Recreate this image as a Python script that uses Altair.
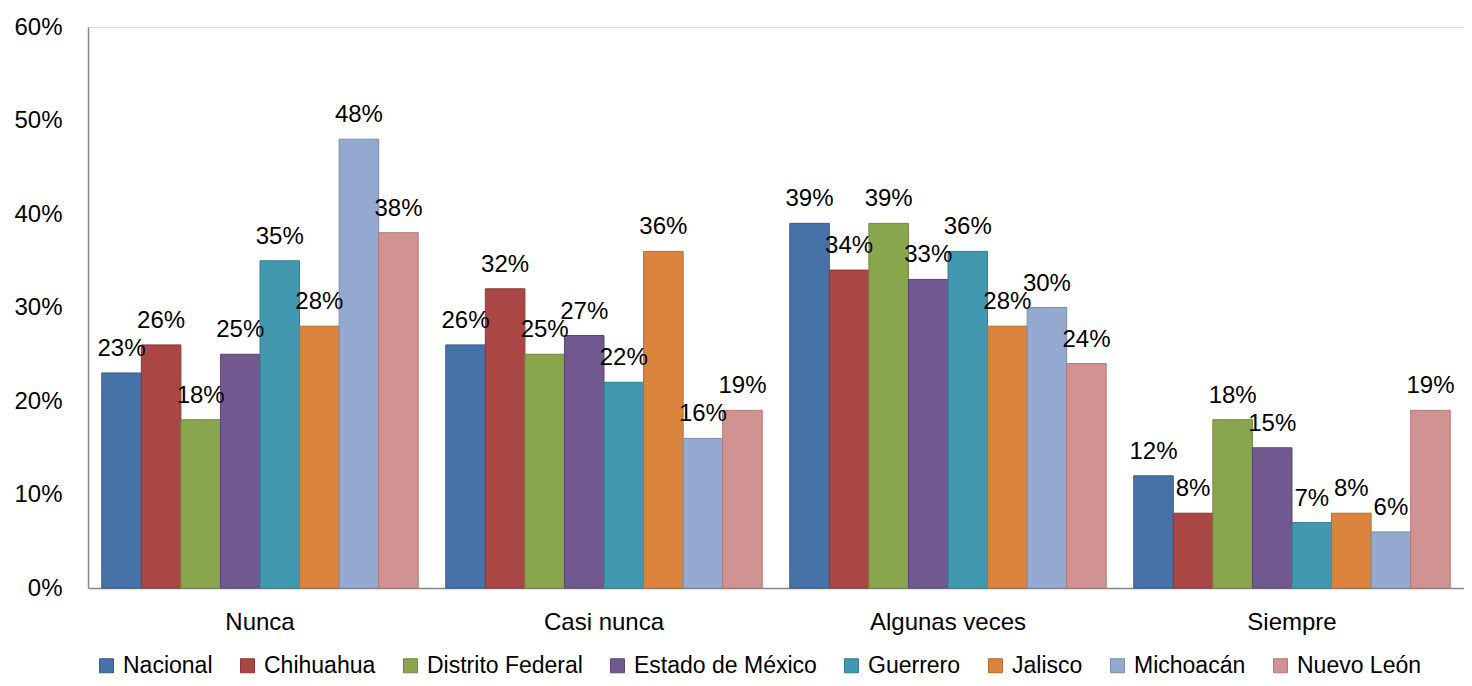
import altair as alt
import pandas as pd

categories = ["Nunca", "Casi  nunca", "Algunas veces", "Siempre"]
series = ["Nacional", "Chihuahua", "Distrito Federal", "Estado de México",
          "Guerrero", "Jalisco", "Michoacán", "Nuevo León"]
values = {
    "Nunca":         [23, 26, 18, 25, 35, 28, 48, 38],
    "Casi  nunca":   [26, 32, 25, 27, 22, 36, 16, 19],
    "Algunas veces": [39, 34, 39, 33, 36, 28, 30, 24],
    "Siempre":       [12, 8, 18, 15, 7, 8, 6, 19],
}
fill_colors = ["#4572A7", "#AA4643", "#89A54E", "#71588F",
               "#4198AF", "#DB843D", "#93A9CF", "#D19392"]
stroke_colors = ["#385D8A", "#8C3836", "#71893F", "#5C4776",
                 "#357D91", "#B66D31", "#7A8DB0", "#AF7A79"]
y_ticks = [0, 0.1, 0.2, 0.3, 0.4, 0.5, 0.6]

rows = []
for c in categories:
    for s, v in zip(series, values[c]):
        rows.append({"cat": c, "serie": s, "val": v / 100})
df = pd.DataFrame(rows)

FONT = "Liberation Sans"

base = alt.Chart(df).encode(
    x=alt.X("cat:N", sort=categories, title=None,
            scale=alt.Scale(paddingInner=0.08, paddingOuter=0.04),
            axis=alt.Axis(labelAngle=0, ticks=False, labelPadding=22,
                          labelFont=FONT, labelFontSize=24, labelColor="#000000",
                          domainColor="#868686", domainWidth=1.5)),
    xOffset=alt.XOffset("serie:N", sort=series,
                        scale=alt.Scale(paddingInner=0, paddingOuter=0)),
    y=alt.Y("val:Q", title=None,
            scale=alt.Scale(domain=[0, 0.6], nice=False),
            axis=alt.Axis(values=y_ticks, format=".0%", ticks=False, grid=False,
                          labelPadding=26, labelFont=FONT, labelFontSize=24,
                          labelColor="#000000", domainColor="#868686",
                          domainWidth=1.5)),
)

bars = base.mark_bar(strokeWidth=1).encode(
    color=alt.Color("serie:N", sort=series,
                    scale=alt.Scale(domain=series, range=fill_colors),
                    legend=alt.Legend(title=None, orient="none", direction="horizontal",
                                      columns=8, legendX=7, legendY=627,
                                      symbolType="square", symbolSize=196,
                                      symbolStrokeWidth=1, labelOffset=5,
                                      columnPadding=23, labelFont=FONT,
                                      labelFontSize=23, labelColor="#000000",
                                      labelLimit=400)),
    stroke=alt.Stroke("serie:N", sort=series,
                      scale=alt.Scale(domain=series, range=stroke_colors),
                      legend=None),
)

labels = base.mark_text(font=FONT, fontSize=24, color="#000000",
                        baseline="alphabetic", dy=-17).encode(
    text=alt.Text("val:Q", format=".0%"),
)

chart = alt.layer(bars, labels).properties(
    width=1376, height=561,
    autosize=alt.AutoSizeParams(type="none"),
    padding={"left": 80, "top": 19, "right": 0, "bottom": 90},
).configure_view(stroke=None).configure(background="#ffffff")

chart.save("out.html", embed_options={"renderer": "svg", "actions": False})
